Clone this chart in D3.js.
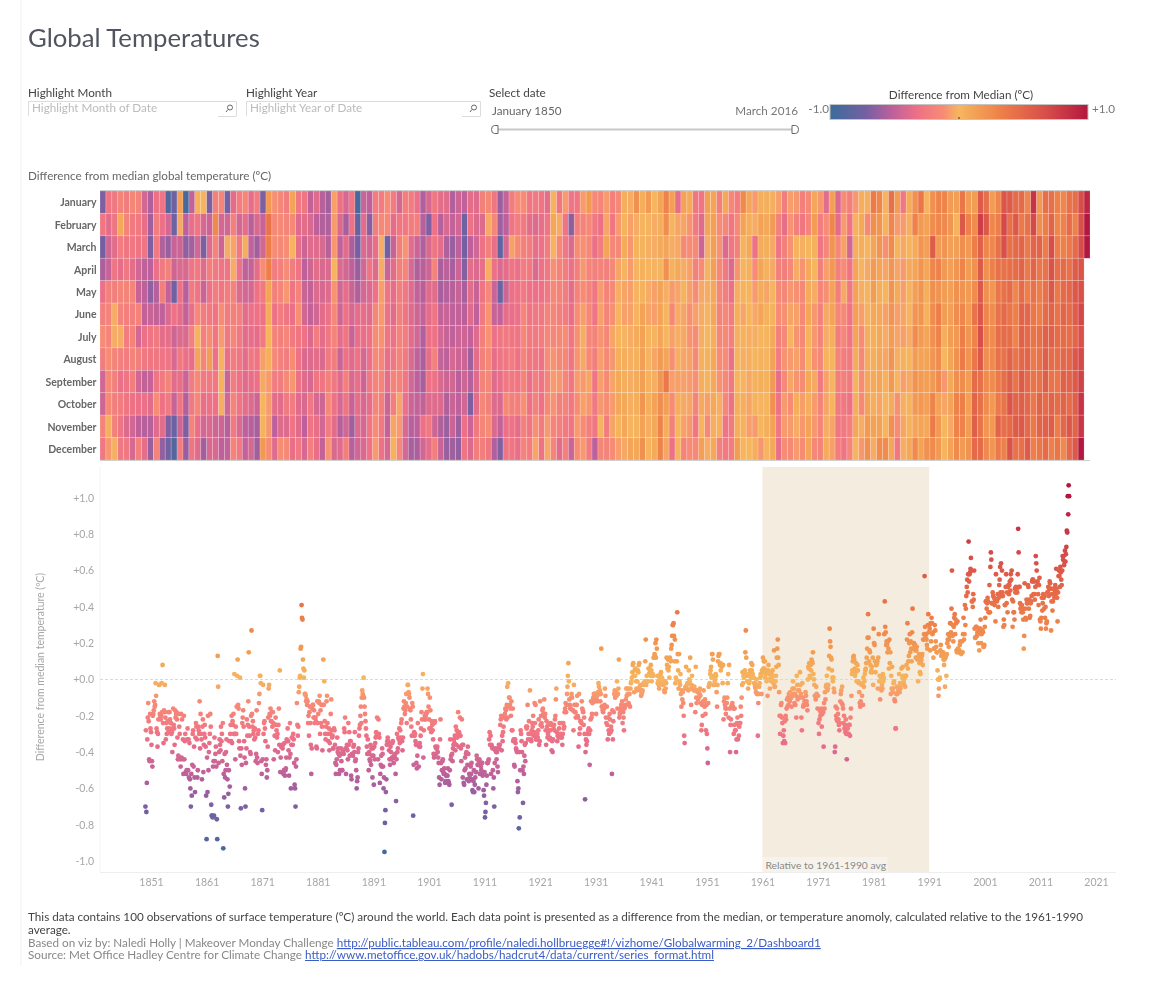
<!DOCTYPE html>
<html>
<head>
<meta charset="utf-8">
<title>Global Temperatures</title>
<script src="https://cdn.jsdelivr.net/npm/d3@7"></script>
<style>
  html, body { margin: 0; padding: 0; background: #fff; }
  svg { display: block; font-family: Lato, "Open Sans", sans-serif; filter: blur(0.4px); }
</style>
</head>
<body>
<svg id="chart" width="1174" height="986"></svg>
<script>
const firstYear = 1850;
const months = ["January", "February", "March", "April", "May", "June", "July",
  "August", "September", "October", "November", "December"];
const tickYears = [1851, 1861, 1871, 1881, 1891, 1901, 1911, 1921, 1931, 1941, 1951,
  1961, 1971, 1981, 1991, 2001, 2011, 2021];
const tickValues = [-1, -0.8, -0.6, -0.4, -0.2, 0, 0.2, 0.4, 0.6, 0.8, 1];
const baseline = [1961, 1991];
const colorDomain = [-1, -0.72, -0.52, -0.32, -0.12, 0, 0.33, 0.66, 1];
const colorRange = ["#3a6c9b", "#7560a3", "#bd609b", "#ee7186", "#f78c74", "#f6b65e", "#ee7f49", "#d8504a", "#b3173f"];

// monthly anomaly in hundredths of a degree, one line per year Jan-Dec
const anomalies = [
  -70,-28,-73,-57,-33,-21,-13,-23,-44,-45,-19,-27, // 1850
  -29,-36,-45,-48,-20,-19,-17,-12,-15,-14,-2,-9,
  -27,-29,-37,-30,-22,-3,-3,-19,-20,-22,-20,-2,
  -18,8,-24,-35,-17,-18,-3,-21,-33,-24,-30,-27,
  -23,-18,-29,-27,-18,-22,-24,-24,-30,-29,-40,-27,
  -16,-25,-27,-36,-17,-21,-19,-18,-22,-32,-44,-42,
  -19,-26,-30,-44,-48,-19,-43,-22,-44,-33,-52,-20,
  -44,-34,-30,-51,-52,-50,-33,-27,-50,-33,-54,-35,
  -55,-60,-70,-52,-64,-47,-30,-28,-48,-37,-54,-62,
  -32,-24,-26,-33,-54,-50,-26,-28,-30,-12,-38,-19,
  -30,-33,-55,-26,-22,-51,-36,-30,-25,-32,-37,-64, // 1860
  -88,-43,-62,-20,-50,-40,-35,-30,-19,-26,-69,-75,
  -75,-76,-48,-45,-75,-32,-45,-41,-37,-48,-77,-88,
  13,-4,-46,-40,-33,-36,-39,-26,-34,-30,-45,-24,
  -93,-52,-65,-41,-54,-50,-40,-33,-47,-55,-70,-63,
  -50,-34,-59,-30,-25,-34,-20,-35,-23,-25,-19,-30,
  3,-30,-44,-26,-30,-15,2,11,-14,-16,-34,-38,
  1,-42,-71,-38,-47,-24,-21,-17,-26,-34,-43,-60,
  -70,-46,-38,-22,-31,-25,-12,15,-26,-31,-40,-41,
  -20,27,-19,-26,-23,-30,-28,-33,-27,-32,-45,-41,
  -17,-43,-46,-30,-28,-13,-8,2,2,-2,-45,-52, // 1870
  -72,-44,-3,-30,-24,-23,-27,-34,-47,-44,-54,-50,
  -37,-21,-5,-3,-19,-20,-16,-23,-23,-18,-26,-18,
  -24,-44,-25,-31,-39,-21,-25,-28,-32,-30,-40,-25,
  -16,-36,5,-51,-43,-37,-37,-36,-38,-36,-52,-50,
  -35,-53,-50,-49,-43,-33,-34,-27,-34,-39,-53,-43,
  -24,-41,-60,-36,-32,-32,-36,-30,-33,-46,-58,-60,
  -70,-48,-44,-13,-25,-31,-26,-7,-4,1,2,17,
  18,41,34,33,11,6,1,5,-8,-8,-9,-12,
  -11,-14,-12,-24,-20,-31,-18,-15,-24,-36,-52,-38,
  -16,-14,-14,-21,-17,-24,-21,-21,-23,-37,-38,-12, // 1880
  -24,-19,-12,-13,-9,-30,-17,-24,-14,-26,-39,-14,
  11,-14,-1,-23,-30,-33,-26,-12,-9,-24,-30,-34,
  -27,-39,-35,-30,-19,-11,-28,-32,-31,-38,-38,-27,
  -28,-36,-46,-52,-47,-44,-32,-40,-38,-41,-52,-42,
  -50,-41,-38,-45,-50,-50,-40,-39,-41,-27,-29,-21,
  -38,-52,-38,-36,-39,-44,-24,-36,-29,-42,-34,-34,
  -53,-55,-41,-41,-42,-37,-36,-40,-29,-45,-44,-50,
  -60,-56,-54,-40,-38,-31,-27,-25,-20,-15,-24,-10,
  -6,-8,-9,1,-10,-15,-19,-23,-27,-31,-37,-41,
  -33,-41,-50,-40,-44,-45,-36,-47,-38,-42,-54,-38, // 1890
  -42,-58,-37,-44,-35,-32,-29,-31,-21,-30,-44,-22,
  -30,-32,-57,-52,-47,-42,-48,-38,-41,-48,-60,-54,
  -95,-79,-72,-62,-55,-36,-34,-32,-34,-35,-39,-44,
  -47,-37,-40,-44,-43,-35,-34,-43,-46,-42,-43,-41,
  -52,-67,-44,-30,-40,-38,-32,-33,-27,-35,-28,-32,
  -24,-22,-34,-39,-32,-16,-12,-15,-19,-17,-13,-8,
  -24,-15,-3,-3,-7,-8,-10,-16,-17,-22,-26,-31,
  -13,-15,-75,-47,-29,-31,-30,-34,-36,-46,-49,-42,
  -24,-36,-48,-37,-35,-37,-31,-27,-18,-22,-5,3,
  -43,-28,-22,-20,-22,-20,-19,-18,-18,-5,-8,-15, // 1900
  -22,-27,-10,-17,-27,-29,-23,-25,-28,-33,-41,-43,
  -24,-23,-37,-41,-38,-38,-37,-40,-43,-46,-54,-58,
  -33,-22,-46,-55,-50,-45,-44,-51,-52,-49,-52,-57,
  -56,-53,-56,-53,-53,-49,-56,-57,-58,-50,-33,-44,
  -42,-69,-41,-45,-38,-36,-33,-35,-31,-39,-26,-36,
  -28,-32,-30,-18,-37,-29,-31,-21,-31,-38,-45,-22,
  -36,-54,-36,-57,-58,-50,-43,-49,-41,-40,-55,-47,
  -37,-41,-56,-52,-54,-47,-48,-52,-46,-55,-61,-62,
  -56,-50,-62,-58,-54,-51,-51,-42,-44,-47,-47,-60,
  -46,-44,-52,-46,-48,-50,-46,-46,-53,-51,-61,-64, // 1910
  -51,-76,-73,-68,-58,-53,-46,-46,-45,-44,-33,-29,
  -36,-31,-52,-36,-37,-38,-50,-60,-54,-70,-46,-39,
  -38,-40,-44,-40,-48,-51,-38,-36,-38,-36,-25,-22,
  -20,-39,-31,-34,-29,-26,-21,-20,-19,-16,-17,-22,
  -14,-4,-21,-2,-15,-10,-10,-14,-16,-20,-12,-28,
  -28,-16,-34,-33,-47,-48,-33,-35,-38,-39,-40,-56,
  -62,-60,-82,-40,-76,-50,-28,-30,-34,-40,-50,-68,
  -48,-52,-42,-36,-45,-35,-26,-27,-26,-14,-33,-30,
  -23,-30,-6,-30,-33,-34,-28,-24,-26,-20,-31,-29,
  -13,-24,-14,-33,-32,-33,-30,-32,-28,-22,-36,-34, // 1920
  -12,-25,-20,-24,-26,-17,-16,-19,-19,-11,-21,-19,
  -28,-36,-23,-26,-32,-30,-25,-28,-33,-32,-28,-24,
  -25,-39,-34,-40,-33,-27,-25,-28,-22,-20,-11,-5,
  -29,-34,-31,-31,-32,-27,-24,-31,-30,-32,-24,-32,
  -36,-30,-24,-27,-26,-18,-16,-13,-18,-14,-8,-4,
  2,9,-1,-11,-14,-16,-16,-10,-8,-10,-17,-17,
  -28,-3,-14,-18,-18,-21,-14,-14,-9,-20,-21,-37,
  -8,-30,-27,-23,-23,-24,-12,-16,-17,-18,-25,-21,
  -30,-66,-40,-33,-36,-34,-30,-30,-28,-27,-30,-47,
  -28,-22,-12,-21,-19,-13,-11,-10,-8,-12,-8,-12, // 1930
  -8,-19,-11,-9,-12,-7,-2,-4,-8,-6,-12,-8,
  17,-15,-15,-17,-18,-15,-16,-14,-5,-9,-21,-24,
  -15,-25,-33,-21,-28,-30,-19,-22,-29,-26,-28,-52,
  -17,-33,-23,-18,-8,-6,-10,-7,-7,-9,-1,-16,
  -8,-5,11,-21,-19,-18,-16,-14,-14,-12,-24,-18,
  -21,-28,-16,-15,-14,-11,-5,-9,-5,-8,-5,-13,
  -14,-8,-15,-5,-2,-1,1,4,8,9,2,-7,
  5,2,6,-1,-5,-6,-1,5,4,8,9,-4,
  -3,-6,-9,-8,-7,-6,-3,-2,-3,-2,-1,10,
  22,-3,2,-1,-1,-1,6,3,6,4,2,8, // 1940
  5,-1,2,3,2,12,12,14,13,20,12,22,
  17,2,-2,-1,-3,-5,1,-1,3,4,-2,1,
  0,-3,-3,-1,-6,-7,-1,-5,-2,12,8,6,
  11,5,7,1,12,11,10,17,19,24,30,30,
  31,24,10,22,-2,1,0,10,37,14,5,-5,
  14,-1,-3,3,-8,-15,-6,-11,-7,-13,-20,-31,
  -35,-5,-4,7,-5,-3,-2,-2,-6,5,0,-1,
  12,-5,-14,-3,2,-5,-4,-5,-6,-4,-6,-18,
  7,-10,-13,-6,-7,-11,-10,-6,-8,-5,-9,-13,
  -28,-25,-14,-20,-12,-6,-12,-15,-11,-19,-28,-14, // 1950
  -30,-38,-46,-13,-4,-3,-2,3,5,7,1,14,
  14,11,-3,2,-3,-1,0,3,2,-7,-15,-3,
  10,13,14,14,8,9,5,8,7,8,-2,8,
  -22,-12,-10,-14,-16,-19,-16,-13,-10,-2,3,-21,
  8,-16,-40,-25,-22,-15,-14,-13,-15,-16,-30,-25,
  -16,-28,-28,-40,-33,-24,-21,-33,-25,-31,-26,-24,
  -24,-15,-20,-10,-3,4,-2,2,1,4,5,15,
  27,12,2,-1,2,-5,3,-2,-1,5,3,1,
  9,5,8,3,1,1,-2,-2,-4,-5,-7,0,
  -8,-3,-31,-13,-8,-4,-2,1,3,2,-8,5, // 1960
  4,12,6,10,6,10,1,3,4,-1,0,-9,
  5,8,4,3,-5,3,1,-1,3,1,5,-1,
  -2,16,-4,-4,-1,2,7,12,17,22,12,8,
  -7,-20,-30,-20,-14,-13,-21,-24,-35,-31,-28,-34,
  -23,-35,-20,-22,-16,-11,-15,-10,-14,-8,-8,-12,
  -7,-10,-10,-15,-9,-5,-1,-8,-5,-13,-8,-14,
  -9,-21,2,-3,-11,-6,-10,-6,-10,4,-3,-8,
  -21,-28,-2,-10,-15,-14,-14,-12,-12,-7,-9,-12,
  -14,-17,0,7,6,9,2,1,8,5,11,10,
  9,15,3,0,-3,-9,-9,-11,-4,-8,-9,-16, // 1970
  -9,-24,-30,-22,-17,-20,-18,-16,-26,-19,-17,-18,
  -37,-13,-16,-7,-11,-4,-3,2,-6,-5,-3,6,
  13,28,21,18,12,11,5,1,-1,1,-5,-7,
  -40,-37,-15,-20,-22,-16,-23,-19,-22,-25,-28,-24,
  -12,-8,-6,-13,-4,-14,-16,-24,-20,-27,-25,-29,
  -22,-30,-44,-30,-27,-30,-30,-25,-25,-31,-21,-16,
  -9,3,5,10,12,13,11,6,2,4,9,-1,
  5,8,5,-1,-2,-7,-13,-15,-12,-14,-3,-9,
  -2,-14,1,-4,-1,3,5,6,9,12,17,23,
  36,23,10,16,15,8,4,5,7,4,12,-3, // 1980
  28,20,19,10,4,8,8,9,10,-5,12,25,
  -1,2,-11,-5,1,-6,-3,-5,3,-1,1,25,
  43,29,26,19,21,19,15,21,17,6,22,9,
  15,-8,2,-5,7,-7,-5,-2,-1,-11,-12,-27,
  -27,-8,-4,-8,-7,-5,-7,3,-7,-2,-5,-3,
  6,-2,1,7,2,-1,-3,1,-4,2,2,8,
  22,31,6,10,13,20,25,15,21,17,10,26,
  39,17,20,20,19,19,16,12,16,18,11,12,
  -1,12,14,9,4,3,10,11,13,14,8,22,
  22,25,57,29,23,25,22,19,17,30,36,26, // 1990
  30,28,16,31,21,34,31,25,26,12,17,17,
  30,27,21,18,15,15,5,0,-9,-5,0,1,
  16,19,13,14,13,13,15,11,8,11,-4,12,
  13,2,14,20,22,25,18,22,24,31,31,26,
  39,60,24,30,21,29,34,36,25,33,31,16,
  15,32,17,15,16,16,19,21,15,14,15,21,
  15,25,34,22,25,41,30,39,46,51,55,48,
  58,76,54,58,59,61,67,60,43,43,40,47,
  44,60,28,23,23,29,29,24,26,25,20,27,
  16,28,28,33,20,25,26,27,26,18,18,19, // 2000
  29,34,43,43,39,42,45,43,37,37,52,37,
  62,70,66,42,42,48,46,42,45,41,44,32,
  58,44,43,44,47,40,45,52,55,62,48,64,
  46,60,48,46,29,33,30,41,41,51,58,42,
  48,37,51,52,47,52,54,49,58,55,60,44,
  29,43,37,37,33,50,48,51,48,50,48,58,
  83,70,51,51,42,39,41,37,41,39,37,33,
  17,24,53,39,34,33,44,42,42,52,51,39,
  44,34,35,42,43,46,54,55,55,47,54,47,
  44,51,68,64,60,52,54,47,41,52,56,33, // 2010
  32,28,34,45,38,42,47,45,39,46,34,40,
  28,31,32,48,48,51,46,50,54,53,50,27,
  43,47,38,43,50,47,45,49,52,47,61,50,
  45,32,48,57,60,57,51,62,59,55,52,60,
  68,66,68,63,65,71,65,69,73,82,81,101,
  91,107,101 // to March 2016
];

const data = anomalies.map((v, i) => ({
  year: firstYear + Math.floor(i / 12),
  month: months[i % 12],
  time: firstYear + i / 12,
  value: v / 100
}));

const svg = d3.select("#chart");
const grey = "#a6a6a6";
const labelSize = 11.7;

const color = d3.scaleLinear().domain(colorDomain).range(colorRange).clamp(true);

// page edge
svg.append("line").attr("x1", 21).attr("x2", 21).attr("y1", 0).attr("y2", 966)
  .attr("stroke", "#f1f1f1");

svg.append("text").attr("x", 28).attr("y", 47)
  .attr("font-size", 25.7).attr("fill", "#50555f").text("Global Temperatures");

// filter boxes
const filters = [
  { label: "Highlight Month", hint: "Highlight Month of Date", x: 28, w: 209 },
  { label: "Highlight Year", hint: "Highlight Year of Date", x: 246, w: 235 }
];
const filter = svg.selectAll(".filter").data(filters).enter().append("g")
  .attr("class", "filter")
  .attr("transform", d => `translate(${d.x},0)`);
filter.append("text").attr("y", 97).attr("font-size", labelSize).attr("fill", "#444").text(d => d.label);
filter.append("path")
  .attr("d", d => `M0.5,116V101.5H${d.w - 0.5}V116M${d.w - 19},116.5H${d.w - 0.5}`)
  .attr("fill", "none").attr("stroke", "#dcdcdc");
filter.append("text").attr("x", 4).attr("y", 112).attr("font-size", labelSize).attr("fill", "#bbb").text(d => d.hint);
filter.append("circle").attr("cx", d => d.w - 7).attr("cy", 107.5).attr("r", 2.5)
  .attr("fill", "none").attr("stroke", "#666");
filter.append("line").attr("stroke", "#666")
  .attr("x1", d => d.w - 9).attr("y1", 109.5).attr("x2", d => d.w - 11).attr("y2", 112);

// date slider
svg.append("text").attr("x", 489).attr("y", 97).attr("font-size", labelSize).attr("fill", "#444").text("Select date");
svg.append("text").attr("x", 492).attr("y", 115).attr("font-size", labelSize).attr("fill", "#666").text("January 1850");
svg.append("text").attr("x", 798).attr("y", 115).attr("font-size", labelSize).attr("fill", "#777")
  .attr("text-anchor", "end").text("March 2016");
svg.append("line").attr("x1", 496).attr("x2", 794).attr("y1", 129.5).attr("y2", 129.5)
  .attr("stroke", "#c8c8c8").attr("stroke-width", 2);
svg.append("path").attr("d", "M498,125.5H494.5Q491.5,125.5 491.5,129.5Q491.5,133.5 494.5,133.5H498Z")
  .attr("fill", "#fff").attr("stroke", "#666");
svg.append("path").attr("d", "M792,125.5H795.5Q798.5,125.5 798.5,129.5Q798.5,133.5 795.5,133.5H792Z")
  .attr("fill", "#fff").attr("stroke", "#666");

// colour legend
const legendX = d3.scaleLinear().domain([-1, 1]).range([830, 1088]);
const grad = svg.append("defs").append("linearGradient").attr("id", "legend-grad");
grad.selectAll("stop").data(colorDomain).enter().append("stop")
  .attr("offset", d => (d + 1) / 2)
  .attr("stop-color", d => color(d));
svg.append("rect").attr("x", legendX(-1)).attr("y", 104.5)
  .attr("width", legendX(1) - legendX(-1)).attr("height", 15)
  .attr("fill", "url(#legend-grad)").attr("stroke", "#c4c4c4");
svg.append("line").attr("x1", legendX(0)).attr("x2", legendX(0)).attr("y1", 117).attr("y2", 119).attr("stroke", "#333");
svg.append("text").attr("x", 961).attr("y", 99).attr("font-size", labelSize).attr("fill", "#444")
  .attr("text-anchor", "middle").text("Difference from Median (ºC)");
svg.append("text").attr("x", legendX(-1) - 1).attr("y", 113).attr("font-size", labelSize).attr("fill", "#777")
  .attr("text-anchor", "end").text("-1.0");
svg.append("text").attr("x", legendX(1) + 4).attr("y", 113).attr("font-size", labelSize).attr("fill", "#777").text("+1.0");

// heatmap
svg.append("text").attr("x", 28).attr("y", 180).attr("font-size", labelSize).attr("fill", "#666")
  .text("Difference from median global temperature (ºC)");

const years = d3.range(firstYear, firstYear + Math.ceil(anomalies.length / 12));
const heatX = d3.scaleBand().domain(years).range([100, 1090]);
const heatY = d3.scaleBand().domain(months).range([191, 460]);

svg.append("g").selectAll("rect").data(data).enter().append("rect")
  .attr("x", d => heatX(d.year))
  .attr("y", d => heatY(d.month))
  .attr("width", heatX.bandwidth())
  .attr("height", heatY.bandwidth())
  .attr("fill", d => color(d.value))
  .attr("stroke", "#fff").attr("stroke-opacity", 0.25).attr("stroke-width", 0.7);

svg.append("line").attr("x1", 100).attr("x2", 1090).attr("y1", 190.5).attr("y2", 190.5).attr("stroke", "#cfcfcf");
svg.append("line").attr("x1", 100).attr("x2", 1090).attr("y1", 460.5).attr("y2", 460.5).attr("stroke", "#cfcfcf");

const monthAxis = d3.axisLeft(heatY).tickSize(0).tickPadding(3);
svg.append("g").attr("transform", "translate(99.5,0.8)").call(monthAxis)
  .call(g => g.select(".domain").remove())
  .selectAll("text").attr("font-family", "Lato, sans-serif").attr("font-size", 10.5)
  .attr("font-weight", 700).attr("fill", "#666");

// scatter
const x = d3.scaleLinear().domain([1851, 2021]).range([151, 1096]);
const y = d3.scaleLinear().domain([-1, 1]).range([861, 498]);

svg.append("rect")
  .attr("x", x(baseline[0])).attr("y", 467)
  .attr("width", x(baseline[1]) - x(baseline[0])).attr("height", 405)
  .attr("fill", "#f4ecdf");
svg.append("rect").attr("x", x(baseline[0])).attr("y", 857).attr("width", 125).attr("height", 15)
  .attr("fill", "#f7f3ec");
svg.append("text").attr("x", x(baseline[0]) + 3).attr("y", 869).attr("font-size", 10.3).attr("fill", "#888")
  .text("Relative to 1961-1990 avg");

svg.append("line").attr("x1", 100).attr("x2", 100).attr("y1", 467).attr("y2", 872).attr("stroke", "#f3f3f3");
svg.append("line").attr("x1", 100).attr("x2", 1116).attr("y1", 872.5).attr("y2", 872.5).attr("stroke", "#eee");
svg.append("line").attr("x1", 100).attr("x2", 1116).attr("y1", y(0)).attr("y2", y(0))
  .attr("stroke", "#d9d9d9").attr("stroke-dasharray", "3,2");

const yAxis = d3.axisLeft(y).tickValues(tickValues).tickSize(0).tickPadding(6)
  .tickFormat(d => (d < 0 ? "-" : "+") + Math.abs(d).toFixed(1));
svg.append("g").attr("transform", "translate(100,0)").call(yAxis)
  .call(g => g.select(".domain").remove())
  .selectAll("text").attr("font-family", "Lato, sans-serif").attr("font-size", 10.5).attr("fill", grey);

const xAxis = d3.axisBottom(x).tickValues(tickYears).tickSize(0).tickPadding(7).tickFormat(d3.format("d"));
svg.append("g").attr("transform", "translate(0,872)").call(xAxis)
  .call(g => g.select(".domain").remove())
  .selectAll("text").attr("font-family", "Lato, sans-serif").attr("font-size", 10.5).attr("fill", grey);

svg.append("text").attr("transform", "translate(44,667) rotate(-90)")
  .attr("text-anchor", "middle").attr("font-size", 10.5).attr("fill", grey)
  .text("Difference from median temperature (ºC)");

svg.append("g").selectAll("circle").data(data).enter().append("circle")
  .attr("cx", d => x(d.time))
  .attr("cy", d => y(d.value))
  .attr("r", 2.4)
  .attr("fill", d => color(d.value));

// footer
const note = svg.append("g").attr("font-size", labelSize);
note.append("text").attr("x", 28).attr("y", 921).attr("fill", "#444")
  .text("This data contains 100 observations of surface temperature (ºC) around the world. Each data point is presented as a difference from the median, or temperature anomoly, calculated relative to the 1961-1990");
note.append("text").attr("x", 28).attr("y", 934).attr("fill", "#444").text("average.");
const credit = note.append("text").attr("x", 28).attr("y", 947).attr("fill", "#888");
credit.append("tspan").text("Based on viz by: Naledi Holly | Makeover Monday Challenge ");
credit.append("tspan").attr("fill", "#3b5cc4").attr("text-decoration", "underline")
  .text("http://public.tableau.com/profile/naledi.hollbruegge#!/vizhome/Globalwarming_2/Dashboard1");
const source = note.append("text").attr("x", 28).attr("y", 959).attr("fill", "#888");
source.append("tspan").text("Source: Met Office Hadley Centre for Climate Change ");
source.append("tspan").attr("fill", "#3b5cc4").attr("text-decoration", "underline")
  .text("http://www.metoffice.gov.uk/hadobs/hadcrut4/data/current/series_format.html");
</script>
</body>
</html>
